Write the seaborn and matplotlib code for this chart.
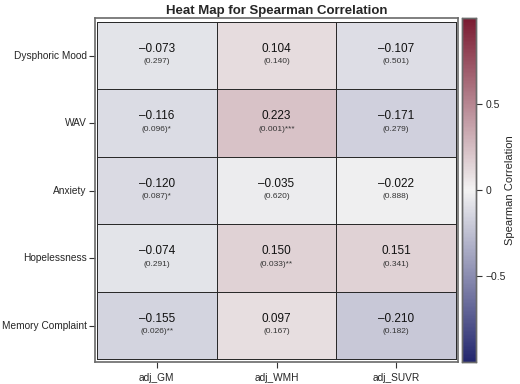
import numpy as np
import pandas as pd
import matplotlib
matplotlib.use('Agg')
import matplotlib.pyplot as plt
import seaborn as sns
from matplotlib.colors import LinearSegmentedColormap

# 数据
row_labels = ['Dysphoric Mood', 'WAV', 'Anxiety', 'Hopelessness', 'Memory Complaint']
col_labels = ['adj_GM', 'adj_WMH', 'adj_SUVR']
rho_gm = [-0.073, -0.116, -0.120, -0.074, -0.155]
rho_wmh = [0.104, 0.223, -0.035, 0.150, 0.097]
rho_suvr = [-0.107, -0.171, -0.022, 0.151, -0.210]
p_gm = ['(0.297)', '(0.096)*', '(0.087)*', '(0.291)', '(0.026)**']
p_wmh = ['(0.140)', '(0.001)***', '(0.620)', '(0.033)**', '(0.167)']
p_suvr = ['(0.501)', '(0.279)', '(0.888)', '(0.341)', '(0.182)']

sns.set_style('white')
plt.rcParams['font.family'] = ['Liberation Sans', 'DejaVu Sans']

rho = pd.DataFrame({'adj_GM': rho_gm, 'adj_WMH': rho_wmh, 'adj_SUVR': rho_suvr},
                   index=row_labels)[col_labels]
pvals = pd.DataFrame({'adj_GM': p_gm, 'adj_WMH': p_wmh, 'adj_SUVR': p_suvr},
                     index=row_labels)[col_labels]

cmap = LinearSegmentedColormap.from_list('bwr_sas', ['#22266e', '#f3f3f3', '#7a1a30'])

fig = plt.figure(figsize=(5.2, 3.84), dpi=100)
ax = fig.add_axes([95 / 520, 22 / 384, 363 / 520, 344 / 384])
cax = fig.add_axes([462 / 520, 22 / 384, 14 / 520, 344 / 384])

sns.heatmap(rho, ax=ax, cbar_ax=cax, cmap=cmap, vmin=-1, vmax=1,
            linewidths=0.6, linecolor='#2a2a2a', annot=False,
            cbar_kws={'ticks': [-0.5, 0, 0.5]})

# 单元格文字
for i, r in enumerate(row_labels):
    for j, c in enumerate(col_labels):
        v = rho.loc[r, c]
        txt = f'{v:.3f}'.replace('-', '\u2013')
        ax.text(j + 0.5, i + 0.40, txt, ha='center', va='center', fontsize=8.5, color='#111111')
        ax.text(j + 0.5, i + 0.59, pvals.loc[r, c], ha='center', va='center',
                fontsize=6, color='#333333')

ax.set_xlim(-0.017, 3.017)
ax.set_ylim(5.04, -0.06)
for s in ax.spines.values():
    s.set_visible(True)
    s.set_color('#6a6a6a')
    s.set_linewidth(1.2)

ax.set_xlabel('')
ax.set_ylabel('')
ax.tick_params(axis='both', which='both', bottom=True, left=True, length=4, width=0.8,
               color='#333333', labelsize=7.3, pad=2)
ax.tick_params(axis='x', pad=4)
ax.set_xticklabels(col_labels, rotation=0)
ax.set_yticklabels(row_labels, rotation=0)
ax.set_title('Heat Map for Spearman Correlation', fontsize=9.5, fontweight='bold', pad=3)

# 色条
cax.tick_params(labelsize=7.5, length=4, width=0.8, color='#333333', right=True, pad=3)
cax.set_yticklabels(['\u22120.5', '0', '0.5'])
cax.text(3.43, 0.5, 'Spearman Correlation', transform=cax.transAxes, rotation=90,
         ha='center', va='center', fontsize=8)
for s in cax.spines.values():
    s.set_visible(True)
    s.set_color('#6a6a6a')
    s.set_linewidth(1)

fig.savefig('out.png', dpi=100)
